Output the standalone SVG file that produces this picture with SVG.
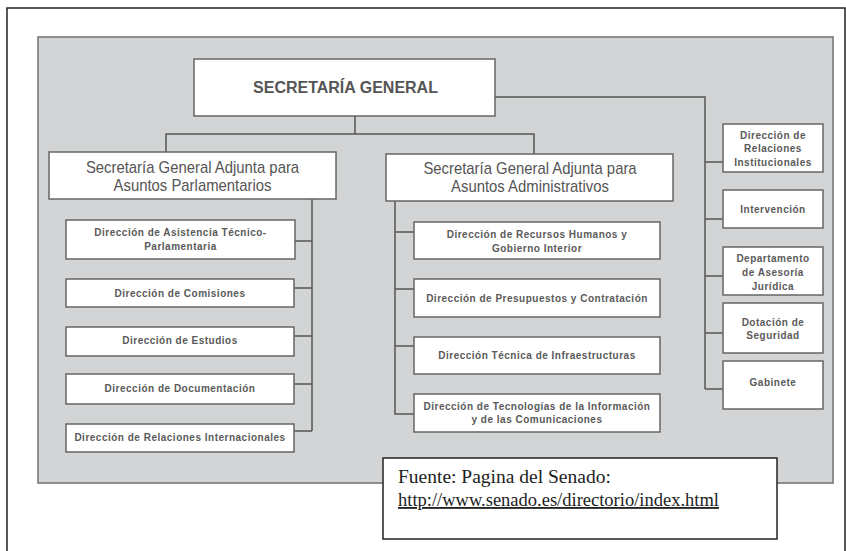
<svg xmlns="http://www.w3.org/2000/svg" width="846" height="551" viewBox="0 0 846 551">
<style>
.box{fill:#fff;stroke:#666;stroke-width:1.5}
.ln{fill:none;stroke:#555;stroke-width:1.5}
.sm{font-family:"Liberation Sans",Arial,sans-serif;font-size:10px;font-weight:bold;fill:#5a5a5a;text-anchor:middle;letter-spacing:0.5px}
.sub{font-family:"Liberation Sans",Arial,sans-serif;font-size:16px;fill:#555;text-anchor:middle}
.title{font-family:"Liberation Sans",Arial,sans-serif;font-size:16px;font-weight:bold;fill:#555;text-anchor:middle}
.src{font-family:"Liberation Serif","Times New Roman",serif;fill:#222}
</style>
<rect x="0" y="0" width="846" height="551" fill="#fff"/>
<rect x="7" y="8" width="838" height="546" fill="none" stroke="#222" stroke-width="1.5"/>
<rect id="panel" x="38" y="37" width="795" height="446" fill="#d3d4d6" stroke="#707070" stroke-width="1.5"/>

<g id="connectors" class="ln">
<path d="M355 116V134M166 152V134H534V154"/>
<path d="M495 97H705V389M705 162H723M705 219H723M705 276H723M705 333H723M705 389H723"/>
<path d="M312 199V431M295 241H312M294 288H312M294 336H312M294 384H312M294 431H312"/>
<path d="M395 201V414H414M395 232H414M395 289H414M395 346H414"/>
</g>

<g id="sg"><rect class="box" x="194" y="59" width="301" height="57"/><text class="title" x="345.5" y="93">SECRETARÍA GENERAL</text></g>

<g id="sgap"><rect class="box" x="49" y="152" width="287" height="47"/>
<g transform="translate(192.5,0) scale(0.93,1)"><text class="sub" x="0" y="173">Secretaría General Adjunta para</text><text class="sub" x="0" y="191">Asuntos Parlamentarios</text></g></g>

<g id="sgaa"><rect class="box" x="386" y="154" width="287" height="47"/>
<g transform="translate(530,0) scale(0.93,1)"><text class="sub" x="0" y="174">Secretaría General Adjunta para</text><text class="sub" x="0" y="192">Asuntos Administrativos</text></g></g>

<g id="d-asistencia"><rect class="box" x="66" y="220" width="229" height="39"/><text class="sm" x="180.5" y="235.5">Dirección de Asistencia Técnico-</text><text class="sm" x="180.5" y="249.5">Parlamentaria</text></g>
<g id="d-comisiones"><rect class="box" x="66" y="279" width="228" height="28"/><text class="sm" x="180" y="296.5">Dirección de Comisiones</text></g>
<g id="d-estudios"><rect class="box" x="66" y="327" width="228" height="29"/><text class="sm" x="180" y="344">Dirección de Estudios</text></g>
<g id="d-documentacion"><rect class="box" x="66" y="374" width="228" height="30"/><text class="sm" x="180" y="392">Dirección de Documentación</text></g>
<g id="d-relint"><rect class="box" x="66" y="424" width="228" height="28"/><text class="sm" x="180" y="441">Dirección de Relaciones Internacionales</text></g>

<g id="d-rrhh"><rect class="box" x="414" y="222" width="246" height="37"/><text class="sm" x="537" y="237.5">Dirección de Recursos Humanos y</text><text class="sm" x="537" y="251.5">Gobierno Interior</text></g>
<g id="d-presupuestos"><rect class="box" x="414" y="279" width="246" height="38"/><text class="sm" x="537" y="301.5">Dirección de Presupuestos y Contratación</text></g>
<g id="d-infra"><rect class="box" x="414" y="337" width="246" height="37"/><text class="sm" x="537" y="358.5">Dirección Técnica de Infraestructuras</text></g>
<g id="d-tic"><rect class="box" x="414" y="394" width="246" height="38"/><text class="sm" x="537" y="409.5">Dirección de Tecnologías de la Información</text><text class="sm" x="537" y="422.5">y de las Comunicaciones</text></g>

<g id="d-relinst"><rect class="box" x="723" y="124" width="100" height="48"/><text class="sm" x="773" y="138.5">Dirección de</text><text class="sm" x="773" y="152">Relaciones</text><text class="sm" x="773" y="165.5">Institucionales</text></g>
<g id="intervencion"><rect class="box" x="723" y="190" width="100" height="38"/><text class="sm" x="773" y="212.5">Intervención</text></g>
<g id="asesoria"><rect class="box" x="723" y="247" width="100" height="48"/><text class="sm" x="773" y="261.5">Departamento</text><text class="sm" x="773" y="275.5">de Asesoría</text><text class="sm" x="773" y="289.5">Jurídica</text></g>
<g id="seguridad"><rect class="box" x="723" y="303" width="100" height="50"/><text class="sm" x="773" y="325.5">Dotación de</text><text class="sm" x="773" y="339">Seguridad</text></g>
<g id="gabinete"><rect class="box" x="723" y="361" width="100" height="48"/><text class="sm" x="773" y="386">Gabinete</text></g>

<g id="fuente"><rect x="383" y="458" width="394" height="81" fill="#fff" stroke="#222" stroke-width="1.5"/>
<text class="src" x="398" y="483" font-size="19.5">Fuente: Pagina del Senado:</text>
<text class="src" x="398" y="506" font-size="18.5" fill="#444" text-decoration="underline">http://www.senado.es/directorio/index.html</text></g>
</svg>
